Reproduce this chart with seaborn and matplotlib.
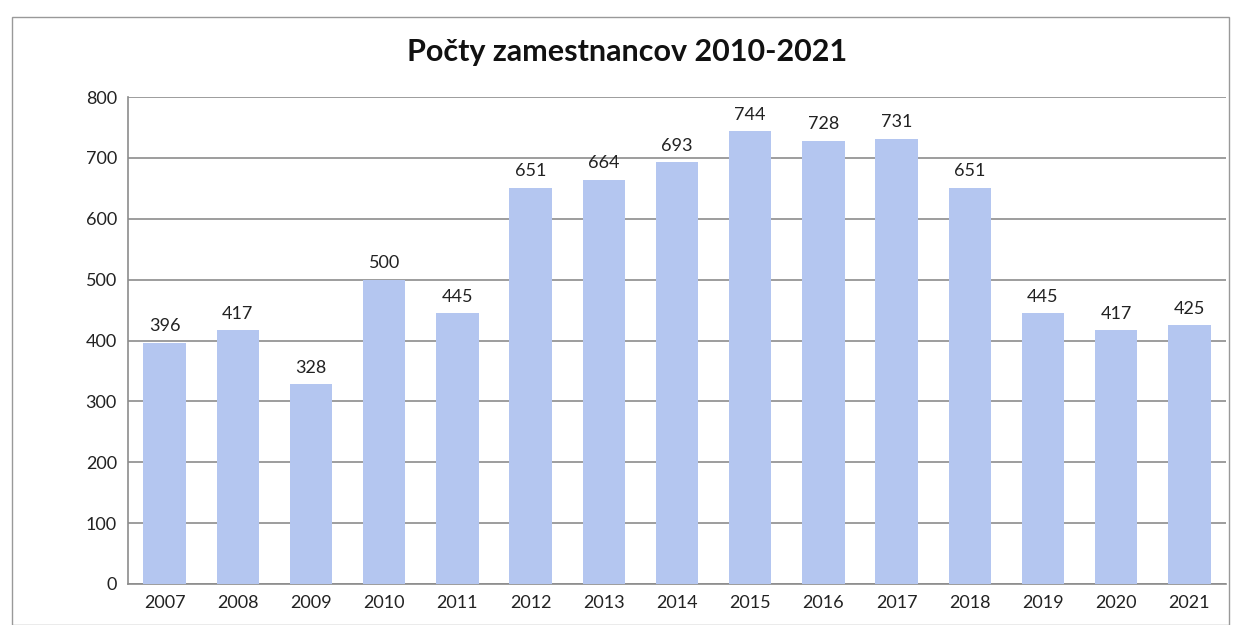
import matplotlib
matplotlib.use("Agg")
import matplotlib.pyplot as plt
import seaborn as sns
import pandas as pd
from matplotlib.patches import Rectangle

# data
years = ["2007", "2008", "2009", "2010", "2011", "2012", "2013", "2014",
         "2015", "2016", "2017", "2018", "2019", "2020", "2021"]
employees = [396, 417, 328, 500, 445, 651, 664, 693, 744, 728, 731, 651, 445, 417, 425]
title = "Počty zamestnancov 2010-2021"

df = pd.DataFrame({"rok": years, "pocet": employees})

sns.set_theme(style="white")
plt.rcParams["font.family"] = ["Lato", "DejaVu Sans"]

fig = plt.figure(figsize=(12.35, 6.25), dpi=100)
ax = fig.add_axes([0.1036, 0.0656, 0.8891, 0.7792])

sns.barplot(data=df, x="rok", y="pocet", color="#b4c6f0", saturation=1,
            width=0.58, linewidth=0, ax=ax, zorder=3)

ax.set_ylim(0, 800)
ax.set_xlim(-0.5, len(years) - 0.5)
ax.set_yticks(range(0, 801, 100))
ax.yaxis.grid(True, color="#8c8c8c", linewidth=1.2, zorder=0)
ax.set_axisbelow(True)
ax.set_xlabel("")
ax.set_ylabel("")
ax.tick_params(axis="both", labelsize=13, colors="#222222", length=0, pad=8)

for side in ["top", "right"]:
    ax.spines[side].set_visible(False)
for side in ["left", "bottom"]:
    ax.spines[side].set_color("#8c8c8c")
    ax.spines[side].set_linewidth(1.2)

for bar, val in zip(ax.patches, employees):
    ax.text(bar.get_x() + bar.get_width() / 2, val + 14, str(val),
            ha="center", va="bottom", fontsize=13, color="#222222")

fig.text(0.508, 0.917, title, ha="center", va="center",
         fontsize=22, fontweight="bold", color="#111111")

# chart border
fig.patches.append(Rectangle((0.01, 0.0), 0.985, 0.973, transform=fig.transFigure,
                             fill=False, edgecolor="#999999", linewidth=1))

fig.savefig("out.png", dpi=100)
